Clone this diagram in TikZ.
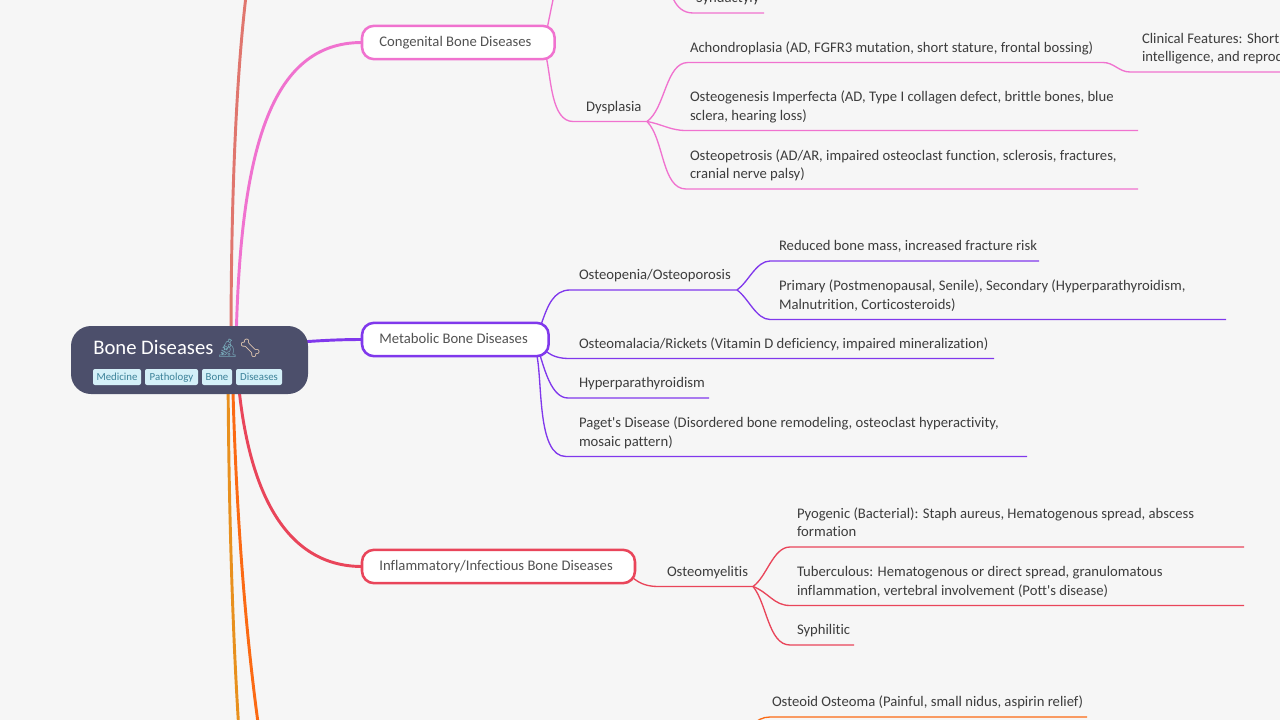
\documentclass[tikz,border=0pt]{standalone}
\usepackage{fontspec}
\setmainfont{Carlito}[Ligatures={TeXOff,NoCommon}]
\newfontfamily\emojifont{Noto Emoji}
\usetikzlibrary{calc,backgrounds}
\definecolor{pagebg}{HTML}{F6F6F6}
\definecolor{rootbg}{HTML}{4C4F6B}
\definecolor{tagbg}{HTML}{D4F0F8}
\definecolor{tagfg}{HTML}{3C8299}
\definecolor{salmonc}{HTML}{E0766E}
\definecolor{pinkc}{HTML}{F072CF}
\definecolor{purplec}{HTML}{8038EC}
\definecolor{redc}{HTML}{E9455A}
\definecolor{amberc}{HTML}{E8901E}
\definecolor{orangec}{HTML}{FB6A14}
\tikzset{
  branch/.style={draw=#1,line width=1.9pt,fill=white,rounded corners=9pt,anchor=west,outer sep=0pt,
    minimum height=25pt,inner xsep=13pt,inner ysep=0pt,align=flush left,text=black!68,
    text height=8.2pt,text depth=2.9pt,font=\fontsize{11pt}{13pt}\selectfont},
  leaf/.style={anchor=south west,inner xsep=0pt,inner ysep=3.6pt,outer sep=0pt,align=flush left,text width=#1*.75pt,
    text=black!76,font=\fontsize{11pt}{13.7pt}\selectfont,execute at end node=\strut},
  tag/.style={fill=tagbg,text=tagfg,rounded corners=1.5pt,anchor=west,inner sep=0pt,outer sep=0pt,
    minimum height=12pt,text height=6.2pt,text depth=1pt,font=\fontsize{8.1pt}{9pt}\selectfont},
  main/.style={line width=2.2pt,#1},
  sub/.style={line width=1pt,#1},
}
\begin{document}
\begin{tikzpicture}[x=.75pt,y=-.75pt]
  \useasboundingbox (0,0) rectangle (1280,720);
  \clip (0,0) rectangle (1280,720);
  \coordinate (HubS) at (231,345);
  \coordinate (HubP) at (236,345);
  \coordinate (HubV) at (232,345);
  \coordinate (HubR) at (236,345);
  \coordinate (HubA) at (228,345);
  \coordinate (HubO) at (232,345);
  \coordinate (TopA) at (248,-20);
  \coordinate (TopB) at (556,-15);
  \coordinate (TopC) at (668,-30);
  \coordinate (OffA) at (241,760);
  \coordinate (OffB) at (265,770);
  \coordinate (OffC) at (745,745);

  \node[fill=rootbg,rounded corners=15pt,minimum width=177.75pt,minimum height=51pt,anchor=north west,inner sep=0pt,outer sep=0pt] (Root) at (71,326) {};
  \node[anchor=west,inner sep=0pt,text=white,font=\fontsize{15.5pt}{18pt}\selectfont] (Title) at (93,348)
    {Bone Diseases\hspace{2pt}{\emojifont\fontsize{13.5pt}{18pt}\selectfont\textcolor{tagfg!70}{🔬}\textcolor{orange!25!white}{🦴}}};
  \node[tag,minimum width=36pt] (TagA) at (93,377) {Medicine};
  \node[tag,minimum width=39.75pt] (TagB) at (145,377) {Pathology};
  \node[tag,minimum width=22.5pt] (TagC) at (202,377) {Bone};
  \node[tag,minimum width=34.5pt] (TagD) at (236,377) {Diseases};

  \node[branch=pinkc,text width=118.5pt] (Cong) at (362,42.5) {Congenital Bone Diseases};
  \node[branch=purplec,text width=114pt] (Meta) at (362,339.5) {Metabolic Bone Diseases};
  \node[branch=redc,text width=178.75pt] (Infl) at (362,566.5) {Inflammatory/Infectious Bone Diseases};

  \node[leaf=68] (Synd) at (696,13) {Syndactyly};
  \node[leaf=61] (Dysp) at (586,121.5) {Dysplasia};
  \node[leaf=413] (Achon) at (690,62.5) {Achondroplasia (AD, FGFR3 mutation, short stature, frontal bossing)};
  \node[leaf=200] (Clin) at (1142,72) {Clinical Features: Short\\intelligence, and reprod};
  \node[leaf=448] (Ogen) at (690,130.5) {Osteogenesis Imperfecta (AD, Type I collagen defect, brittle bones, blue\\sclera, hearing loss)};
  \node[leaf=448] (Opet) at (690,189) {Osteopetrosis (AD/AR, impaired osteoclast function, sclerosis, fractures,\\cranial nerve palsy)};

  \node[leaf=158] (Open) at (579,290) {Osteopenia/Osteoporosis};
  \node[leaf=260] (Redu) at (779,261) {Reduced bone mass, increased fracture risk};
  \node[leaf=447] (Prim) at (779,319.5) {Primary (Postmenopausal, Senile), Secondary (Hyperparathyroidism,\\Malnutrition, Corticosteroids)};
  \node[leaf=415] (Omal) at (579,358.5) {Osteomalacia/Rickets (Vitamin D deficiency, impaired mineralization)};
  \node[leaf=130] (Hypa) at (579,398) {Hyperparathyroidism};
  \node[leaf=448] (Page) at (579,456.5) {Paget's Disease (Disordered bone remodeling, osteoclast hyperactivity,\\mosaic pattern)};

  \node[leaf=86] (Omye) at (667,586.5) {Osteomyelitis};
  \node[leaf=447] (Pyog) at (797,547) {Pyogenic (Bacterial): Staph aureus, Hematogenous spread, abscess\\formation};
  \node[leaf=447] (Tube) at (797,605.5) {Tuberculous: Hematogenous or direct spread, granulomatous\\inflammation, vertebral involvement (Pott's disease)};
  \node[leaf=57] (Syph) at (797,645) {Syphilitic};
  \node[leaf=315] (Oost) at (772,717) {Osteoid Osteoma (Painful, small nidus, aspirin relief)};

  \begin{scope}[on background layer]
    \fill[pagebg] (0,0) rectangle (1280,720);
    \draw[main=salmonc] (HubS) .. controls (231,200) and (236,70) .. (TopA);
    \draw[main=pinkc] (HubP) .. controls (240,150) and (270,42.5) .. (Cong.west);
    \draw[main=purplec] (HubV) to[out=0,in=180] (Meta.west);
    \draw[main=redc] (HubR) .. controls (241,480) and (280,566.5) .. (Infl.west);
    \draw[main=amberc] (HubA) .. controls (228,480) and (232,640) .. (OffA);
    \draw[main=orangec] (HubO) .. controls (234,480) and (244,640) .. (OffB);

    \draw[sub=pinkc] ($(Cong.north east)+(-7,0)$) to (TopB);
    \draw[sub=pinkc] (TopC) to[out=-90,in=180] ($(Synd.south west)+(-3,0)$) -- (Synd.south east);
    \draw[sub=pinkc] ($(Cong.south east)+(-8,0)$) to[out=-78,in=180,looseness=.8] ($(Dysp.south west)+(-13,0)$) -- (Dysp.south east);
    \draw[sub=pinkc] (Dysp.south east) to[out=35,in=180,looseness=.8] ($(Achon.south west)+(-2,0)$) -- (Achon.south east);
    \draw[sub=pinkc] (Achon.south east) to[out=0,in=180] ($(Clin.south west)+(-12,0)$) -- (Clin.south east);
    \draw[sub=pinkc] (Dysp.south east) to[out=-10,in=180] ($(Ogen.south west)+(-4,0)$) -- (Ogen.south east);
    \draw[sub=pinkc] (Dysp.south east) to[out=-45,in=180,looseness=.8] ($(Opet.south west)+(-4,0)$) -- (Opet.south east);

    \draw[sub=purplec] ($(Meta.north east)+(-7,0)$) to[out=70,in=180] ($(Open.south west)+(-9,0)$) -- (Open.south east);
    \draw[sub=purplec] (Open.south east) to[out=35,in=180,looseness=.8] ($(Redu.south west)+(-9,0)$) -- (Redu.south east);
    \draw[sub=purplec] (Open.south east) to[out=-35,in=180,looseness=.8] ($(Prim.south west)+(-9,0)$) -- (Prim.south east);
    \draw[sub=purplec] ($(Meta.south east)+(-4,-6)$) to[out=-40,in=180] ($(Omal.south west)+(-9,0)$) -- (Omal.south east);
    \draw[sub=purplec] ($(Meta.south east)+(-9,-2)$) to[out=-72,in=180,looseness=.8] ($(Hypa.south west)+(-11,0)$) -- (Hypa.south east);
    \draw[sub=purplec] ($(Meta.south east)+(-12,-2)$) to[out=-78,in=180,looseness=.7] ($(Page.south west)+(-13,0)$) -- (Page.south east);

    \draw[sub=redc] ($(Infl.south east)+(-3,-6)$) to[out=-40,in=180] ($(Omye.south west)+(-8,0)$) -- (Omye.south east);
    \draw[sub=redc] (Omye.south east) to[out=35,in=180,looseness=.8] ($(Pyog.south west)+(-7,0)$) -- (Pyog.south east);
    \draw[sub=redc] (Omye.south east) to[out=-20,in=180] ($(Tube.south west)+(-7,0)$) -- (Tube.south east);
    \draw[sub=redc] (Omye.south east) to[out=-50,in=180,looseness=.8] ($(Syph.south west)+(-7,0)$) -- (Syph.south east);
    \draw[sub=orangec] (OffC) to[out=90,in=180] ($(Oost.south west)+(-2,0)$) -- (Oost.south east);
  \end{scope}
\end{tikzpicture}
\end{document}
